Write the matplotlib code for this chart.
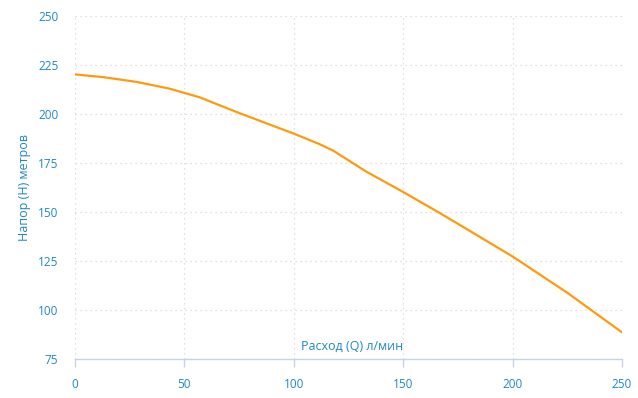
import matplotlib
matplotlib.use("Agg")
import matplotlib.pyplot as plt

# Pump curve: flow (l/min) vs head (m)
flow = [0, 13, 28, 43, 57, 75, 100, 112, 118, 133, 150, 167, 200, 225, 250]
head = [220.2, 218.8, 216.4, 213.0, 208.5, 200.5, 190.0, 184.5, 181.3, 170.7, 160.2,
        149.3, 127.3, 108.8, 88.6]

x_ticks = [0, 50, 100, 150, 200, 250]
y_ticks = [75, 100, 125, 150, 175, 200, 225, 250]

BLUE = '#1f86c8'
AXIS = '#c5d3e8'

plt.rcParams['font.family'] = ['Open Sans', 'DejaVu Sans']

fig = plt.figure(figsize=(6.38, 3.98), dpi=100)
ax = fig.add_axes([75 / 638, 1 - 359 / 398, 547 / 638, 343 / 398])

ax.plot(flow, head, color='#ff9a0e', linewidth=1.6,
        solid_capstyle='round', solid_joinstyle='round')

ax.set_xlim(0, 250)
ax.set_ylim(75, 250)
ax.set_xticks(x_ticks)
ax.set_yticks(y_ticks)

# dotted grid everywhere
ax.grid(True, linestyle=(0, (1, 3)), color='#d6d6d6', linewidth=0.9)
ax.set_axisbelow(True)

for side in ['top', 'right', 'left']:
    ax.spines[side].set_visible(False)
ax.spines['bottom'].set_color(AXIS)
ax.spines['bottom'].set_linewidth(1.0)

ax.tick_params(axis='x', colors=AXIS, length=6, width=1.0, pad=8, labelsize=8.5, labelcolor=BLUE)
ax.tick_params(axis='y', length=0, pad=12, labelsize=8.5, labelcolor=BLUE)

ax.text(0.507, 0.038, 'Расход (Q) л/мин', transform=ax.transAxes,
        ha='center', va='center', fontsize=9, color=BLUE)
ax.set_ylabel('Напор (H) метров', fontsize=9, color=BLUE, labelpad=5)

fig.savefig('out.png', dpi=100)
